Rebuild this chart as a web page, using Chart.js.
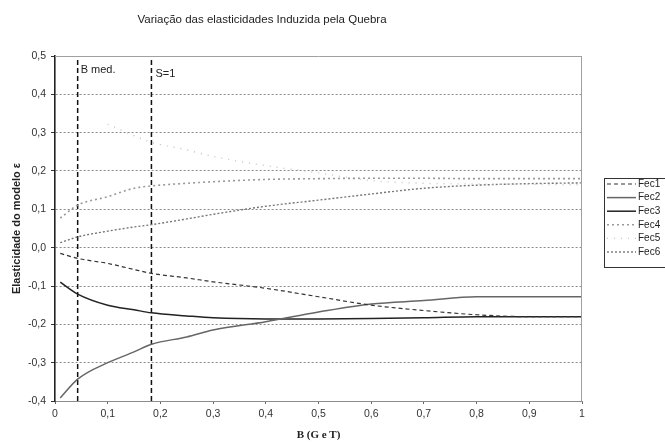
<!DOCTYPE html>
<html>
<head>
<meta charset="utf-8">
<title>Variação das elasticidades</title>
<script src="https://cdn.jsdelivr.net/npm/chart.js@4.4.0/dist/chart.umd.min.js"></script>
<style>
  html, body { margin: 0; padding: 0; background: #fff; }
  #chart { display: block; }
</style>
</head>
<body>
<canvas id="chart" width="665" height="442"></canvas>
<script>
// B values at which every curve is sampled
const bValues = [0.01, 0.043, 0.1, 0.15, 0.183, 0.25, 0.3, 0.4, 0.5, 0.6, 0.7, 0.8, 0.9, 1.0];

// elasticities per series
const fec1 = [-0.015, -0.028, -0.041, -0.057, -0.067, -0.079, -0.089, -0.106, -0.128, -0.150, -0.164, -0.175, -0.180, -0.180];
const fec2 = [-0.392, -0.343, -0.300, -0.272, -0.252, -0.233, -0.215, -0.193, -0.168, -0.147, -0.138, -0.128, -0.128, -0.128];
const fec3 = [-0.090, -0.121, -0.150, -0.162, -0.170, -0.178, -0.183, -0.186, -0.186, -0.185, -0.183, -0.180, -0.180, -0.180];
const fec4 = [0.077, 0.111, 0.133, 0.155, 0.161, 0.168, 0.172, 0.178, 0.180, 0.181, 0.181, 0.180, 0.180, 0.180];
const fec5 = [null, null, 0.322, 0.292, 0.275, 0.255, 0.238, 0.214, 0.195, 0.175, 0.168, 0.166, 0.165, 0.164];
const fec6 = [0.013, 0.028, 0.043, 0.054, 0.060, 0.075, 0.087, 0.108, 0.124, 0.140, 0.155, 0.163, 0.167, 0.169];

const seriesNames = ['Fec1', 'Fec2', 'Fec3', 'Fec4', 'Fec5', 'Fec6'];

// reference lines
const markerB = [0.043, 0.183];
const markerLabels = ['B med.', 'S=1'];

const xTicks = [0, 0.1, 0.2, 0.3, 0.4, 0.5, 0.6, 0.7, 0.8, 0.9, 1];
const xTickLabels = ['0', '0,1', '0,2', '0,3', '0,4', '0,5', '0,6', '0,7', '0,8', '0,9', '1'];
const yTicks = [-0.4, -0.3, -0.2, -0.1, 0, 0.1, 0.2, 0.3, 0.4, 0.5];
const yTickLabels = ['-0,4', '-0,3', '-0,2', '-0,1', '0,0', '0,1', '0,2', '0,3', '0,4', '0,5'];

const chartTitle = 'Variação das elasticidades Induzida pela Quebra';

const FONT = '"Liberation Sans", Arial, sans-serif';

function toPoints(ys) {
    return bValues.map((b, i) => ({ x: b, y: ys[i] }));
}

const seriesStyles = [
    { color: '#333', width: 1.2, dash: [4, 3] },
    { color: '#666', width: 1.5, dash: [] },
    { color: '#222', width: 1.5, dash: [] },
    { color: '#9a9a9a', width: 1.6, dash: [2, 3] },
    { color: '#c4c4c4', width: 1.4, dash: [1, 6] },
    { color: '#777', width: 1.4, dash: [2, 2] }
];

const datasets = [fec1, fec2, fec3, fec4, fec5, fec6].map((ys, i) => ({
    label: seriesNames[i],
    data: toPoints(ys),
    borderColor: seriesStyles[i].color,
    borderWidth: seriesStyles[i].width,
    borderDash: seriesStyles[i].dash,
    pointRadius: 0,
    cubicInterpolationMode: 'monotone',
    fill: false
}));

markerB.forEach((b, i) => {
    datasets.push({
        label: markerLabels[i],
        data: [{ x: b, y: yTicks[0] }, { x: b, y: yTicks[yTicks.length - 1] }],
        borderColor: '#111',
        borderWidth: 1.5,
        borderDash: [5, 3],
        pointRadius: 0,
        fill: false
    });
});

// title, frame, marker captions and the boxed legend on the right
const extras = {
    id: 'extras',
    afterDatasetsDraw(chart) {
        const { ctx, chartArea: a, scales } = chart;
        ctx.save();
        ctx.strokeStyle = '#a0a0a0';
        ctx.lineWidth = 1;
        ctx.beginPath();
        ctx.moveTo(a.left, a.top + 0.5);
        ctx.lineTo(a.right, a.top + 0.5);
        ctx.moveTo(a.right - 0.5, a.top);
        ctx.lineTo(a.right - 0.5, a.bottom);
        ctx.stroke();

        ctx.fillStyle = '#222';
        ctx.font = '11px ' + FONT;
        ctx.textBaseline = 'middle';
        ctx.fillText(markerLabels[0], scales.x.getPixelForValue(markerB[0]) + 3, a.top + 14);
        ctx.fillText(markerLabels[1], scales.x.getPixelForValue(markerB[1]) + 4, a.top + 18);
        ctx.restore();
    },
    afterDraw(chart) {
        const { ctx, chartArea: a } = chart;
        ctx.save();
        ctx.fillStyle = '#222';
        ctx.font = '11.5px ' + FONT;
        ctx.textAlign = 'center';
        ctx.textBaseline = 'middle';
        ctx.fillText(chartTitle, 262, 19.5);

        const left = a.right + 22;
        const top = 178;
        ctx.strokeStyle = '#333';
        ctx.lineWidth = 1;
        ctx.strokeRect(left + 0.5, top + 0.5, 90, 89);
        ctx.font = '10px ' + FONT;
        ctx.textAlign = 'left';
        seriesNames.forEach((name, i) => {
            const ds = chart.data.datasets[i];
            const y = top + 6 + i * 13.6;
            ctx.beginPath();
            ctx.setLineDash(ds.borderDash);
            ctx.strokeStyle = ds.borderColor;
            ctx.lineWidth = ds.borderWidth;
            ctx.moveTo(left + 3, y);
            ctx.lineTo(left + 32, y);
            ctx.stroke();
            ctx.fillText(name, left + 34, y);
        });
        ctx.restore();
    }
};

const chart = new Chart(document.getElementById('chart'), {
    type: 'line',
    data: { datasets: datasets },
    options: {
        responsive: false,
        animation: false,
        layout: { padding: { left: 0, right: 83, top: 56, bottom: 0 } },
        plugins: {
            legend: { display: false },
            tooltip: { enabled: false },
            title: { display: false }
        },
        scales: {
            x: {
                type: 'linear',
                min: 0,
                max: 1,
                afterBuildTicks: s => { s.ticks = xTicks.map(v => ({ value: v })); },
                afterFit: s => { s.height = 41; },
                ticks: {
                    callback: (v, i) => xTickLabels[i],
                    font: { family: FONT, size: 10.5 },
                    color: '#333',
                    padding: 4,
                    maxRotation: 0,
                    autoSkip: false
                },
                grid: { drawOnChartArea: false, drawTicks: true, tickLength: 3, tickColor: '#666' },
                border: { color: '#8c8c8c', width: 1 },
                title: {
                    display: true,
                    text: 'B (G e T)',
                    color: '#222',
                    font: { family: '"Liberation Serif", "Times New Roman", serif', size: 11, weight: 'bold', lineHeight: 1.2 },
                    padding: { top: 9, bottom: 0 }
                }
            },
            y: {
                min: -0.4,
                max: 0.5,
                afterBuildTicks: s => { s.ticks = yTicks.map(v => ({ value: v })); },
                afterFit: s => { s.width = 55; },
                ticks: {
                    callback: (v, i) => yTickLabels[i],
                    font: { family: FONT, size: 10.5 },
                    color: '#333',
                    padding: 5
                },
                grid: {
                    color: c => (c.tick && (c.tick.value <= -0.4 || c.tick.value >= 0.5)) ? 'rgba(0,0,0,0)' : '#8a8a8a',
                    lineWidth: 1,
                    tickLength: 4,
                    tickColor: '#333',
                    tickBorderDash: []
                },
                border: { color: '#222', width: 1.6, dash: [2, 2] },
                title: {
                    display: true,
                    text: 'Elasticidade do modelo ε',
                    color: '#222',
                    font: { family: FONT, size: 11, weight: 'bold', lineHeight: 1.2 },
                    padding: { top: 10, bottom: 0 }
                }
            }
        }
    },
    plugins: [extras]
});
</script>
</body>
</html>
